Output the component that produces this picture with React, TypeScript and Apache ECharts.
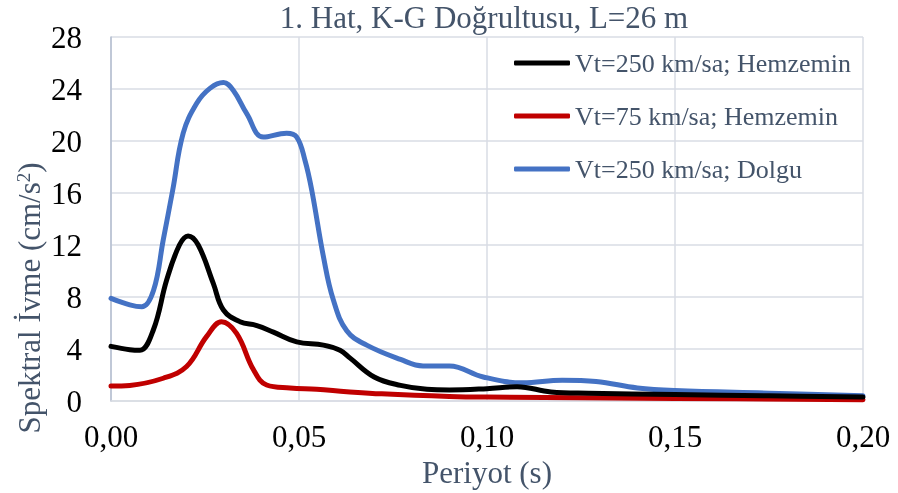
import React, { useEffect, useRef } from "react";
import * as echarts from "echarts";

const titleText = "1. Hat, K-G Doğrultusu, L=26 m";
const xAxisName = "Periyot (s)";
const yAxisName = "Spektral İvme (cm/s{sup|2})";
const seriesNames = [
  "Vt=250 km/sa; Hemzemin",
  "Vt=75 km/sa; Hemzemin",
  "Vt=250 km/sa; Dolgu",
];

const blackX = [0, 0.005, 0.0077, 0.0113, 0.0148, 0.0182, 0.0205, 0.0232, 0.0272, 0.0299, 0.0343, 0.0388, 0.0432, 0.0494, 0.0565, 0.0609, 0.0636, 0.070, 0.077, 0.084, 0.090, 0.100, 0.108, 0.117, 0.127, 0.150, 0.175, 0.20];
const blackY = [4.2, 3.95, 3.9, 5.5, 9.3, 12.0, 12.7, 12.0, 9.05, 7.0, 6.1, 5.8, 5.3, 4.55, 4.3, 3.9, 3.3, 1.85, 1.2, 0.9, 0.85, 0.95, 1.1, 0.7, 0.6, 0.5, 0.4, 0.3];

const redX = [0, 0.005, 0.0139, 0.0201, 0.0254, 0.0294, 0.0334, 0.0379, 0.0414, 0.0476, 0.0547, 0.0627, 0.072, 0.090, 0.100, 0.150, 0.20];
const redY = [1.15, 1.2, 1.75, 2.65, 4.95, 6.1, 5.2, 2.4, 1.23, 1.0, 0.9, 0.72, 0.55, 0.35, 0.3, 0.2, 0.1];

const blueX = [0, 0.005, 0.0082, 0.0113, 0.0139, 0.0164, 0.0192, 0.0228, 0.0263, 0.0299, 0.0325, 0.0361, 0.0405, 0.0467, 0.0494, 0.0516, 0.0534, 0.0565, 0.0591, 0.0627, 0.068, 0.077, 0.083, 0.090, 0.099, 0.1095, 0.120, 0.129, 0.140, 0.150, 0.175, 0.20];
const blueY = [7.9, 7.4, 7.25, 8.5, 12.4, 16.2, 20.6, 22.9, 24.05, 24.5, 23.9, 22.1, 20.3, 20.6, 20.3, 18.5, 16.2, 11.1, 7.8, 5.4, 4.3, 3.2, 2.7, 2.7, 1.85, 1.4, 1.6, 1.5, 1.0, 0.8, 0.6, 0.4];

const colors = ["#000000", "#c00000", "#4472c4"];
const FONT = "'Liberation Serif', 'Times New Roman', serif";
const GRAY = "#44546a";

const pairs = (xs: number[], ys: number[]) => xs.map((x, i) => [x, ys[i]]);

export default function App() {
  const ref = useRef<HTMLDivElement>(null);
  useEffect(() => {
    if (!ref.current) return;
    const chart = echarts.init(ref.current, null, { renderer: "svg" });
    const data = [pairs(blackX, blackY), pairs(redX, redY), pairs(blueX, blueY)];
    chart.setOption({
      animation: false,
      title: {
        text: titleText,
        left: 479,
        top: -3,
        textAlign: "center",
        textStyle: { fontFamily: FONT, fontSize: 31, fontWeight: "normal", color: GRAY },
      },
      legend: {
        orient: "vertical",
        left: 509,
        top: 44,
        itemWidth: 56,
        itemHeight: 5,
        itemGap: 25,
        icon: "roundRect",
        data: seriesNames,
        textStyle: { fontFamily: FONT, fontSize: 26, color: GRAY, lineHeight: 28 },
      },
      grid: {
        left: 111,
        right: 35,
        top: 37,
        bottom: 92,
        containLabel: false,
        outerBoundsMode: "none",
      },
      xAxis: {
        type: "value",
        min: 0,
        max: 0.2,
        interval: 0.05,
        name: xAxisName,
        nameLocation: "middle",
        nameGap: 52,
        nameTextStyle: { fontFamily: FONT, fontSize: 31, color: GRAY },
        axisLine: { show: true, lineStyle: { color: "#d9dde4", width: 1.5 } },
        axisTick: { show: false },
        axisLabel: {
          fontFamily: FONT,
          fontSize: 31,
          color: "#000",
          margin: 20,
          formatter: (v: number) => v.toFixed(2).replace(".", ","),
        },
        splitLine: { show: true, lineStyle: { color: "#d9dde4", width: 1.5 } },
      },
      yAxis: {
        type: "value",
        min: 0,
        max: 28,
        interval: 4,
        axisLine: { show: true, lineStyle: { color: "#b4bfd0", width: 1.5 } },
        axisTick: { show: false },
        axisLabel: { fontFamily: FONT, fontSize: 31, color: "#000", margin: 29 },
        splitLine: { show: true, lineStyle: { color: "#d9dde4", width: 1.5 } },
      },
      graphic: [
        {
          type: "text",
          x: 29,
          y: 298,
          rotation: Math.PI / 2,
          style: {
            text: yAxisName,
            fontFamily: FONT,
            fontSize: 31,
            fill: GRAY,
            align: "center",
            verticalAlign: "middle",
            rich: {
              sup: { fontFamily: FONT, fontSize: 19, fill: GRAY, verticalAlign: "top", lineHeight: 31 },
            },
          },
        },
      ],
      series: seriesNames.map((name, i) => ({
        name,
        type: "line",
        data: data[i],
        smooth: 0.4,
        symbol: "none",
        z: i === 2 ? 1 : 3 - i,
        lineStyle: { color: colors[i], width: 5, cap: "round", join: "round" },
        itemStyle: { color: colors[i] },
      })),
    });
    return () => chart.dispose();
  }, []);
  return (
    <div
      ref={ref}
      style={{ position: "fixed", left: 0, top: 0, width: 898, height: 493 }}
    />
  );
}
